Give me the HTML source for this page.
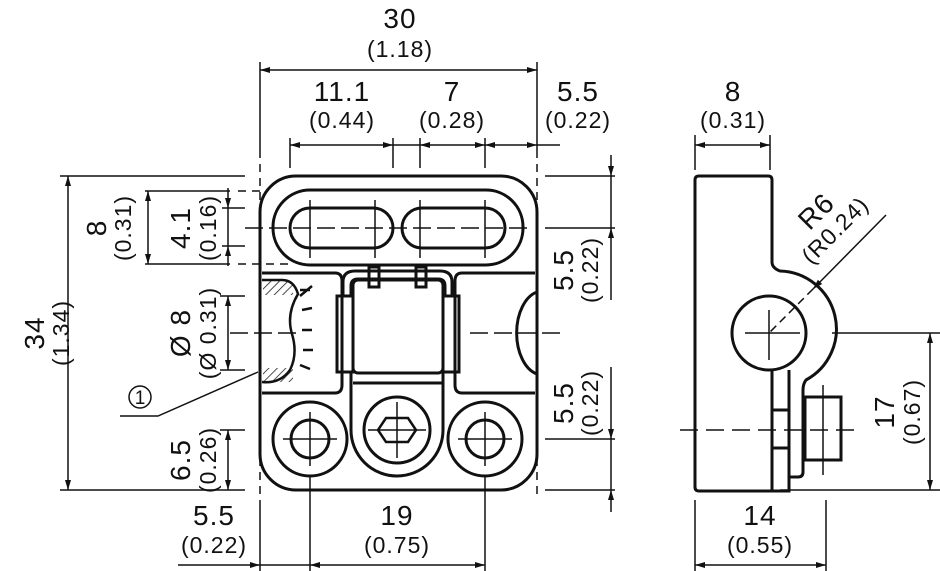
<!DOCTYPE html>
<html><head><style>
html,body{margin:0;padding:0;background:#fff;}
svg{display:block;}
text{font-family:"Liberation Sans",sans-serif;fill:#111;}
.t{font-size:28px;letter-spacing:1px;}
.s{font-size:23px;letter-spacing:1px;}
</style></head><body>
<svg width="940" height="571" viewBox="0 0 940 571" xmlns="http://www.w3.org/2000/svg">
<defs>
<marker id="a" viewBox="0 0 10 10" refX="10" refY="5" markerWidth="10" markerHeight="10" markerUnits="userSpaceOnUse" orient="auto-start-reverse"><path d="M0,2 L10,5 L0,8 z" fill="#111"/></marker>
<pattern id="h" width="6" height="6" patternUnits="userSpaceOnUse" patternTransform="rotate(45)"><line x1="0" y1="0" x2="0" y2="6" stroke="#111" stroke-width="1.5"/></pattern>
</defs>
<g fill="none" stroke="#111" stroke-width="3">
<rect x="260" y="176" width="277" height="314" rx="36"/>
<rect x="273" y="190" width="250" height="75" rx="37"/>
<rect x="290" y="208" width="103" height="40" rx="20"/>
<rect x="402" y="208" width="103" height="40" rx="20"/>
<path d="M262,273 H335 q7,0 7,8 V385 q0,8 -7,8 H262"/>
<path d="M535,273 H462 q-7,0 -7,8 V385 q0,8 7,8 H535"/>
<path d="M343,296 V282 q0,-11 12,-11 H440 q12,0 12,11 V296"/>
<path d="M351,296 V286 q0,-7 7,-7 H438 q7,0 7,7 V296"/>
<rect x="353" y="280" width="90" height="93" rx="5"/>
<rect x="337" y="296" width="16" height="76"/>
<rect x="443" y="296" width="16" height="76"/>
<rect x="369" y="267" width="10" height="20"/>
<rect x="416" y="267" width="10" height="20"/>
<path d="M353,383 H443"/>
<path d="M351,373 V430 a46,46 0 0 0 92,0 V373"/>
<circle cx="310" cy="439" r="37"/><circle cx="310" cy="439" r="19"/>
<circle cx="397" cy="430" r="33"/>
<path d="M386,418 L408,418 L416,430 L408,442 L386,442 L378,430 Z" stroke-width="2.5"/>
<circle cx="485" cy="439" r="37"/><circle cx="485" cy="439" r="19"/>
<path d="M537,292 A26,42 0 0 0 537,374"/>
<path d="M262,280 H282 q12,0 16,14 q-12,20 -6,40 q6,20 -2,36 q-10,14 -28,12 H262" stroke-width="2.5"/>
<rect x="263" y="281" width="30" height="14" fill="url(#h)" stroke="none"/>
<rect x="263" y="368" width="30" height="14" fill="url(#h)" stroke="none"/>
<path d="M300,290 l10,0 M300,296 l12,-10 M302,310 l10,-2 M302,330 l10,0 M303,350 l10,0 M300,365 l10,4" stroke-width="2.5"/>
<path d="M699,176 H768 q4,0 4,4 V262 q0,6 8,9 A58,58 0 0 1 806,380 q-3,4 -3,10 V472 q0,5 -5,5 H789 V491 H699 q-4,0 -4,-4 V180 q0,-4 4,-4 Z"/>
<circle cx="769" cy="333" r="37"/>
<path d="M772,370 V490 M772,410 H789 M772,448 H789 M789,370 V477"/>
<rect x="805" y="397" width="36" height="63"/>
</g>
<g fill="none" stroke="#111" stroke-width="1.5" stroke-dasharray="18,6">
<line x1="245" y1="228" x2="530" y2="228"/>
<line x1="230" y1="333" x2="300" y2="333"/>
<line x1="470" y1="333" x2="565" y2="333"/>
<line x1="283" y1="439" x2="337" y2="439" stroke-dasharray="none"/>
<line x1="458" y1="439" x2="512" y2="439" stroke-dasharray="none"/>
<line x1="310" y1="412" x2="310" y2="466" stroke-dasharray="none"/>
<line x1="485" y1="412" x2="485" y2="466" stroke-dasharray="none"/>
<line x1="397" y1="402" x2="397" y2="458" stroke-dasharray="none"/>
<line x1="368" y1="430" x2="426" y2="430" stroke-dasharray="none"/>
<line x1="310" y1="200" x2="310" y2="258" stroke-dasharray="none"/>
<line x1="375" y1="200" x2="375" y2="258" stroke-dasharray="none"/>
<line x1="420" y1="200" x2="420" y2="258" stroke-dasharray="none"/>
<line x1="485" y1="200" x2="485" y2="258" stroke-dasharray="none"/>
<line x1="260" y1="150" x2="260" y2="500" stroke-dasharray="8,6"/>
<line x1="537" y1="150" x2="537" y2="500" stroke-dasharray="8,6"/>
<line x1="238" y1="191" x2="260" y2="191" stroke-dasharray="8,6"/>
<line x1="238" y1="264" x2="290" y2="264" stroke-dasharray="8,6"/>
<line x1="680" y1="430" x2="860" y2="430" stroke-dasharray="18,8"/>
<line x1="745" y1="333" x2="800" y2="333" stroke-dasharray="none"/>
<line x1="769" y1="310" x2="769" y2="360" stroke-dasharray="none"/>
<line x1="823" y1="385" x2="823" y2="475" stroke-dasharray="none"/>
</g>
<g fill="none" stroke="#111" stroke-width="1.5">
<line x1="260" y1="62" x2="260" y2="150"/><line x1="537" y1="62" x2="537" y2="150"/>
<line x1="260" y1="70" x2="537" y2="70" marker-start="url(#a)" marker-end="url(#a)"/>
<line x1="290" y1="138" x2="290" y2="168"/><line x1="393" y1="138" x2="393" y2="168"/>
<line x1="420" y1="138" x2="420" y2="168"/><line x1="485" y1="138" x2="485" y2="168"/>
<line x1="290" y1="145" x2="393" y2="145" marker-start="url(#a)" marker-end="url(#a)"/>
<line x1="393" y1="145" x2="420" y2="145"/>
<line x1="420" y1="145" x2="485" y2="145" marker-start="url(#a)" marker-end="url(#a)"/>
<line x1="485" y1="145" x2="537" y2="145" marker-start="url(#a)" marker-end="url(#a)"/>
<line x1="537" y1="145" x2="560" y2="145"/>
<line x1="60" y1="176" x2="245" y2="176"/><line x1="60" y1="490" x2="245" y2="490"/>
<line x1="68" y1="176" x2="68" y2="490" marker-start="url(#a)" marker-end="url(#a)"/>
<line x1="145" y1="191" x2="230" y2="191"/><line x1="145" y1="264" x2="230" y2="264"/>
<line x1="148" y1="191" x2="148" y2="264" marker-start="url(#a)" marker-end="url(#a)"/>
<line x1="222" y1="208" x2="245" y2="208"/><line x1="222" y1="246" x2="245" y2="246"/>
<line x1="228" y1="188" x2="228" y2="208" marker-end="url(#a)"/>
<line x1="228" y1="266" x2="228" y2="246" marker-end="url(#a)"/>
<line x1="228" y1="208" x2="228" y2="246"/>
<line x1="220" y1="296" x2="245" y2="296"/><line x1="220" y1="370" x2="245" y2="370"/>
<line x1="228" y1="296" x2="228" y2="370" marker-start="url(#a)" marker-end="url(#a)"/>
<line x1="220" y1="430" x2="245" y2="430"/>
<line x1="228" y1="430" x2="228" y2="490" marker-start="url(#a)" marker-end="url(#a)"/>
<polyline points="120,416 158,416 258,372"/>
<circle cx="140" cy="397" r="11"/>
<!-- right upper 5.5 -->
<line x1="545" y1="176" x2="615" y2="176"/><line x1="545" y1="228" x2="615" y2="228"/>
<line x1="611" y1="155" x2="611" y2="176" marker-end="url(#a)"/>
<line x1="611" y1="300" x2="611" y2="228" marker-end="url(#a)"/>
<line x1="611" y1="176" x2="611" y2="228"/>
<!-- right lower 5.5 -->
<line x1="545" y1="439" x2="615" y2="439"/><line x1="545" y1="490" x2="615" y2="490"/>
<line x1="611" y1="367" x2="611" y2="439" marker-end="url(#a)"/>
<line x1="611" y1="512" x2="611" y2="490" marker-end="url(#a)"/>
<line x1="611" y1="439" x2="611" y2="490"/>
<line x1="260" y1="500" x2="260" y2="571"/><line x1="310" y1="475" x2="310" y2="571"/><line x1="485" y1="475" x2="485" y2="571"/>
<line x1="178" y1="565" x2="260" y2="565" marker-end="url(#a)"/>
<line x1="260" y1="565" x2="310" y2="565"/>
<line x1="310" y1="565" x2="485" y2="565" marker-start="url(#a)" marker-end="url(#a)"/>
<line x1="695" y1="135" x2="695" y2="170"/><line x1="770" y1="135" x2="770" y2="170"/>
<line x1="695" y1="145" x2="770" y2="145" marker-start="url(#a)" marker-end="url(#a)"/>
<line x1="695" y1="500" x2="695" y2="571"/><line x1="826" y1="500" x2="826" y2="571"/>
<line x1="695" y1="565" x2="826" y2="565" marker-start="url(#a)" marker-end="url(#a)"/>
<line x1="832" y1="333" x2="940" y2="333"/><line x1="780" y1="490" x2="940" y2="490"/>
<line x1="930" y1="333" x2="930" y2="490" marker-start="url(#a)" marker-end="url(#a)"/>
<line x1="886" y1="215" x2="813" y2="289" marker-end="url(#a)"/>
<line x1="813" y1="289" x2="769" y2="333" stroke-dasharray="8,5"/>
</g>
<g text-anchor="middle">
<text class="t" x="400" y="28">30</text><text class="s" x="400" y="57">(1.18)</text>
<text class="t" x="342" y="101">11.1</text><text class="s" x="342" y="128">(0.44)</text>
<text class="t" x="452" y="101">7</text><text class="s" x="452" y="128">(0.28)</text>
<text class="t" x="578" y="101">5.5</text><text class="s" x="578" y="128">(0.22)</text>
<text class="t" x="733" y="101">8</text><text class="s" x="733" y="128">(0.31)</text>
<text class="t" x="214" y="525">5.5</text><text class="s" x="214" y="553">(0.22)</text>
<text class="t" x="397" y="525">19</text><text class="s" x="397" y="553">(0.75)</text>
<text class="t" x="760" y="525">14</text><text class="s" x="760" y="553">(0.55)</text>
<text style="font-size:19px" x="140" y="404">1</text>
<g transform="translate(44,333) rotate(-90)"><text class="t" x="0" y="0">34</text><text class="s" x="0" y="25">(1.34)</text></g>
<g transform="translate(106,228) rotate(-90)"><text class="t" x="0" y="0">8</text><text class="s" x="0" y="25">(0.31)</text></g>
<g transform="translate(190,228) rotate(-90)"><text class="t" x="0" y="0">4.1</text><text class="s" x="0" y="26">(0.16)</text></g>
<g transform="translate(190,333) rotate(-90)"><text class="t" x="0" y="0">Ø 8</text><text class="s" x="0" y="26">(Ø 0.31)</text></g>
<g transform="translate(190,460) rotate(-90)"><text class="t" x="0" y="0">6.5</text><text class="s" x="0" y="26">(0.26)</text></g>
<g transform="translate(573,270) rotate(-90)"><text class="t" x="0" y="0">5.5</text><text class="s" x="0" y="25">(0.22)</text></g>
<g transform="translate(573,403) rotate(-90)"><text class="t" x="0" y="0">5.5</text><text class="s" x="0" y="25">(0.22)</text></g>
<g transform="translate(894,412) rotate(-90)"><text class="t" x="0" y="0">17</text><text class="s" x="0" y="26">(0.67)</text></g>
<g transform="translate(823,218) rotate(-45)"><text class="t" x="0" y="0">R6</text><text class="s" x="0" y="25">(R0.24)</text></g>
</g>
</svg>
</body></html>
